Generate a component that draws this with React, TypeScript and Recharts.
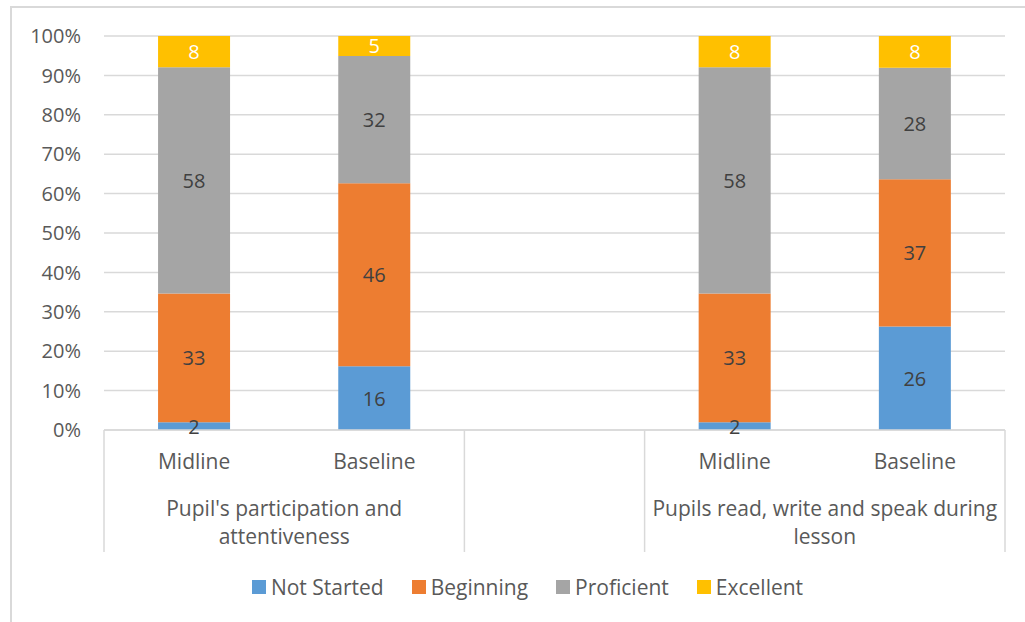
import React from "react";
import {
  BarChart,
  Bar,
  XAxis,
  YAxis,
  CartesianGrid,
  Legend,
  LabelList,
} from "recharts";

const categories = ["Midline", "Baseline", "", "Midline", "Baseline"];
const groupOf = [0, 0, 1, 2, 2];
// group captions, already broken into the lines the reference shows
const groupLines = [
  ["Pupil's participation and", "attentiveness"],
  [],
  ["Pupils read, write and speak during", "lesson"],
];

const notStarted = [2, 16, null, 2, 26];
const beginning = [33, 46, null, 33, 37];
const proficient = [58, 32, null, 58, 28];
const excellent = [8, 5, null, 8, 8];

const yTicks = [0, 0.1, 0.2, 0.3, 0.4, 0.5, 0.6, 0.7, 0.8, 0.9, 1];

const series = [
  { key: "notStarted", name: "Not Started", color: "#5B9BD5", text: "#404040" },
  { key: "beginning", name: "Beginning", color: "#ED7D31", text: "#404040" },
  { key: "proficient", name: "Proficient", color: "#A5A5A5", text: "#404040" },
  { key: "excellent", name: "Excellent", color: "#FFC000", text: "#FFFFFF" },
];

const data = categories.map((c, i) => ({
  id: i,
  category: c,
  notStarted: notStarted[i],
  beginning: beginning[i],
  proficient: proficient[i],
  excellent: excellent[i],
}));

const W = 1025;
const H = 622;
const FONT = "'Open Sans', sans-serif";
const TEXT = "#595959";
const LINE = "#D9D9D9";
const MARGIN = { top: 36, right: 20, bottom: 70, left: 0 };
const Y_WIDTH = 104;
const X_HEIGHT = 122;

function CategoryTick(props: any) {
  const { x, y, index } = props;
  const plotW = props.width ?? W - MARGIN.left - MARGIN.right - Y_WIDTH;
  const slot = plotW / (props.visibleTicksCount ?? categories.length);
  const g = groupOf[index];
  const groupStart = index === 0 || groupOf[index - 1] !== g;
  const count = groupOf.filter((v) => v === g).length;
  const left = x - slot / 2;
  const isLast = index === categories.length - 1;
  return (
    <g>
      <text
        x={x}
        y={y + 31}
        textAnchor="middle"
        dominantBaseline="central"
        fill={TEXT}
        fontSize={21}
        fontFamily={FONT}
      >
        {categories[index]}
      </text>
      {groupStart && (
        <line x1={left} x2={left} y1={y} y2={y + X_HEIGHT} stroke={LINE} strokeWidth={1.5} />
      )}
      {isLast && (
        <line
          x1={x + slot / 2}
          x2={x + slot / 2}
          y1={y}
          y2={y + X_HEIGHT}
          stroke={LINE}
          strokeWidth={1.5}
        />
      )}
      {groupStart &&
        groupLines[g].map((line, k) => (
          <text
            key={k}
            x={left + (count * slot) / 2}
            y={y + 78 + k * 28}
            textAnchor="middle"
            dominantBaseline="central"
            fill={TEXT}
            fontSize={21}
            fontFamily={FONT}
          >
            {line}
          </text>
        ))}
    </g>
  );
}

function makeLabel(color: string) {
  return (p: any) => {
    const v = p.value;
    if (v == null || Array.isArray(v) || !p.viewBox) return null;
    const { x, y, width, height } = p.viewBox;
    return (
      <text
        x={x + width / 2}
        y={y + height / 2}
        textAnchor="middle"
        dominantBaseline="central"
        fill={color}
        fontSize={20}
        fontFamily={FONT}
      >
        {v}
      </text>
    );
  };
}

function LegendContent() {
  return (
    <div
      style={{
        display: "flex",
        justifyContent: "center",
        gap: 28,
        fontFamily: FONT,
        fontSize: 21,
        color: TEXT,
      }}
    >
      {series.map((s) => (
        <div key={s.key} style={{ display: "flex", alignItems: "center", gap: 5 }}>
          <span style={{ width: 14, height: 14, background: s.color, display: "inline-block" }} />
          <span>{s.name}</span>
        </div>
      ))}
    </div>
  );
}

export default function App() {
  return (
    <div style={{ position: "absolute", left: 0, top: 0, width: W, height: H, overflow: "hidden", background: "#fff" }}>
      <div
        style={{
          position: "absolute",
          left: 10,
          top: 6,
          width: 1040,
          height: 640,
          border: `2px solid ${LINE}`,
        }}
      />
      <BarChart
        width={W}
        height={H}
        data={data}
        margin={MARGIN}
        stackOffset="expand"
        barCategoryGap="30%"
        style={{ fontFamily: FONT }}
      >
        <CartesianGrid vertical={false} stroke={LINE} strokeWidth={1.5} />
        <XAxis
          dataKey="id"
          interval={0}
          height={X_HEIGHT}
          tickLine={false}
          tickSize={0}
          tickMargin={0}
          axisLine={{ stroke: LINE, strokeWidth: 1.5 }}
          tick={<CategoryTick />}
        />
        <YAxis
          type="number"
          domain={[0, 1]}
          ticks={yTicks}
          width={Y_WIDTH}
          axisLine={false}
          tickLine={false}
          tickSize={0}
          tickMargin={23}
          tickFormatter={(v: number) => `${Math.round(v * 100)}%`}
          tick={{ fill: TEXT, fontSize: 20, fontFamily: FONT }}
        />
        <Legend
          verticalAlign="middle"
          align="center"
          layout="horizontal"
          wrapperStyle={{ top: 573, left: 11, width: 1033 }}
          content={<LegendContent />}
        />
        {series.map((s) => (
          <Bar
            key={s.key}
            dataKey={s.key}
            name={s.name}
            stackId="a"
            fill={s.color}
            isAnimationActive={false}
          >
            <LabelList dataKey={s.key} content={makeLabel(s.text)} />
          </Bar>
        ))}
      </BarChart>
    </div>
  );
}
